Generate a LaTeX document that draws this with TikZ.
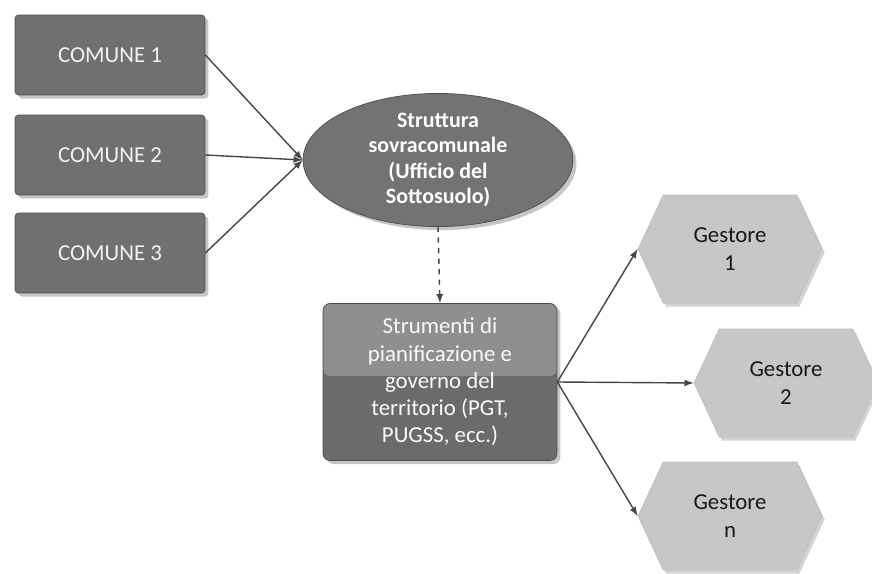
\documentclass[tikz,border=0pt]{standalone}
\usepackage{fontspec}
\setmainfont{Carlito}
\usepackage{tikz}
\usetikzlibrary{calc, shapes.geometric, shapes.symbols, shadows, positioning}

\tikzset{
    comunebox/.style={draw=gray!60!black, fill=gray!88!black, text=gray!10,
        minimum width=3.8cm, minimum height=1.6cm, rounded corners=2pt,
        font=\fontsize{13}{15}\selectfont,
        drop shadow={opacity=0.45, shadow xshift=2pt, shadow yshift=-2pt}},
    ente/.style={ellipse, draw=gray!60!black, fill=gray!90!black, text=white,
        minimum width=5.4cm, minimum height=2.24cm, inner sep=0pt, align=center,
        font=\bfseries\fontsize{12.5}{14.5}\selectfont,
        drop shadow={opacity=0.45, shadow xshift=2pt, shadow yshift=-2pt}},
    strumento/.style={draw=gray!60!black, fill=gray!84!black, text=gray!5,
        minimum width=4.68cm, minimum height=3.14cm, rounded corners=4pt,
        align=center, font=\fontsize{13}{15.5}\selectfont,
        drop shadow={opacity=0.45, shadow xshift=2pt, shadow yshift=-2pt},
        path picture={\fill[gray!88] (path picture bounding box.north west)
            rectangle ($(path picture bounding box.east)+(0,0.12cm)$);}},
    gestore/.style={signal, signal to=east and west, signal pointer angle=130,
        draw=gray!50, fill=gray!44, text=gray!20!black,
        minimum width=3.68cm, minimum height=2.16cm, inner sep=2pt, align=center,
        font=\fontsize{13}{16}\selectfont,
        drop shadow={opacity=0.35, shadow xshift=1.5pt, shadow yshift=-2pt}},
    freccia/.style={->, draw=gray!55!black, thick}
}

\begin{document}
\begin{tikzpicture}[>=latex, x=0.02cm, y=-0.02cm]
    \useasboundingbox (0,0) rectangle (872,574);

    % 1. Comuni
    \node[comunebox] (comune1) at (110,55)  {COMUNE 1};
    \node[comunebox] (comune2) at (110,155) {COMUNE 2};
    \node[comunebox] (comune3) at (110,253) {COMUNE 3};

    % 2. Struttura sovracomunale
    \node[ente] (ufficio) at (438,160)
        {Struttura\\sovracomunale\\(Ufficio del\\Sottosuolo)};

    % 3. Strumenti di pianificazione
    \node[strumento] (strumenti) at (440,382)
        {Strumenti di\\pianificazione e\\governo del\\territorio (PGT,\\PUGSS, ecc.)};

    % 4. Gestori
    \node[gestore] (gestore1) at (730,249) {Gestore\\1};
    \node[gestore] (gestore2) at (786,383) {Gestore\\2};
    \node[gestore] (gestoren) at (730,516) {Gestore\\n};

    % 5. Frecce
    \foreach \c in {comune1, comune2, comune3}
        \draw[freccia] (\c.east) -- (ufficio.west);
    \draw[freccia, dashed] (ufficio.south) -- (strumenti.north);
    \foreach \g in {gestore1, gestore2, gestoren}
        \draw[freccia] (strumenti.east) -- (\g.west);
\end{tikzpicture}
\end{document}
